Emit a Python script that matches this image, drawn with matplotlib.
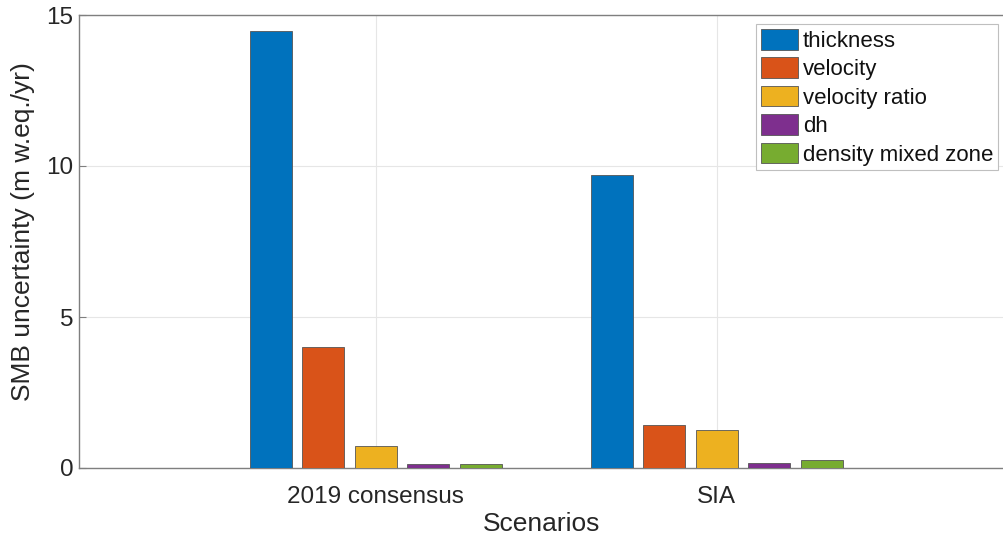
import numpy as np
import matplotlib
matplotlib.use('Agg')
import matplotlib.pyplot as plt

# data
scenarios = ['2019 consensus', 'SIA']
sources = ['thickness', 'velocity', 'velocity ratio', 'dh', 'density mixed zone']
thickness = [14.47, 9.70]
velocity = [4.00, 1.43]
velocity_ratio = [0.72, 1.26]
dh = [0.14, 0.18]
density_mixed_zone = [0.14, 0.26]
series = [thickness, velocity, velocity_ratio, dh, density_mixed_zone]

colors = ['#0072BD', '#D95319', '#EDB120', '#7E2F8E', '#77AC30']

plt.rcParams['font.family'] = ['Liberation Sans', 'DejaVu Sans']

fig = plt.figure(figsize=(10.04, 5.43), dpi=100)
ax = fig.add_axes([79 / 1004, 75 / 543, 925 / 1004, 453 / 543])

x = np.arange(1, len(scenarios) + 1)
step = 0.154
width = 0.123
for i, (vals, lab) in enumerate(zip(series, sources)):
    ax.bar(x + (i - 2) * step, vals, width, color=colors[i], label=lab,
           edgecolor='#555555', linewidth=0.6, zorder=3)

ax.set_xlim(0.13, 2.843)
ax.set_ylim(0, 15)
ax.set_yticks([0, 5, 10, 15])
ax.set_xticks(x)
ax.set_xticklabels(scenarios)

ax.grid(True, color='#e6e6e6', linewidth=0.8, zorder=0)
ax.set_axisbelow(True)
for side in ['left', 'bottom', 'top']:
    ax.spines[side].set_color('#7f7f7f')
    ax.spines[side].set_linewidth(1.0)
ax.spines['right'].set_visible(False)

ax.tick_params(direction='in', length=5, color='#7f7f7f', labelsize=17.5,
               labelcolor='#262626')
ax.tick_params(axis='x', pad=13)
ax.tick_params(axis='y', pad=4)
ax.set_ylabel('SMB uncertainty (m w.eq./yr)', fontsize=19, color='#262626')
ax.yaxis.set_label_coords(-0.048, 0.521)
ax.set_xlabel('Scenarios', fontsize=19, color='#262626', labelpad=3)

leg = ax.legend(loc='upper right', bbox_to_anchor=(998 / 1004, 1 - 24 / 543),
                bbox_transform=fig.transFigure, borderaxespad=0, fontsize=16,
                fancybox=False, framealpha=1, edgecolor='#bfbfbf',
                handlelength=1.67, handleheight=1.05, handletextpad=0.2,
                labelspacing=0.25, borderpad=0.22)
leg.get_frame().set_linewidth(0.8)
for t in leg.get_texts():
    t.set_color('#111111')

fig.savefig('out.png', dpi=100)
